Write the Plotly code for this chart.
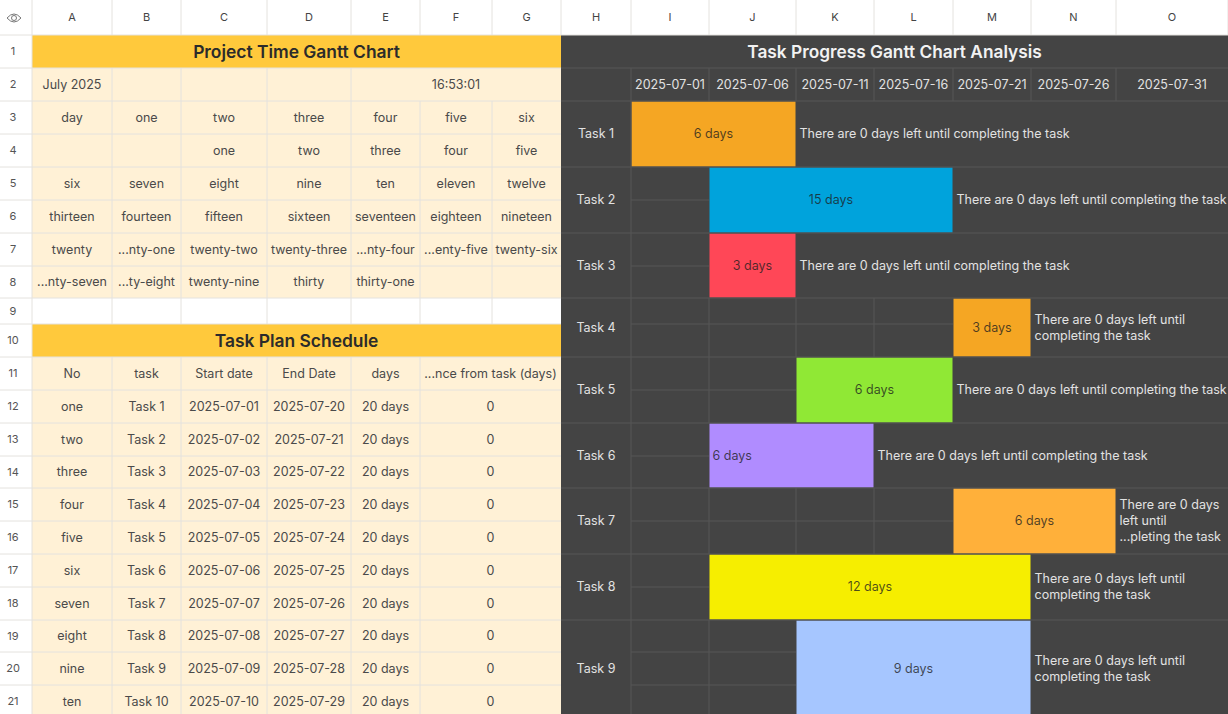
import plotly.graph_objects as go

# spreadsheet text
col_letters = ["A", "B", "C", "D", "E", "F", "G", "H", "I", "J", "K", "L", "M", "N", "O"]
calendar_days = [
    ["day", "one", "two", "three", "four", "five", "six"],
    ["", "", "one", "two", "three", "four", "five"],
    ["six", "seven", "eight", "nine", "ten", "eleven", "twelve"],
    ["thirteen", "fourteen", "fifteen", "sixteen", "seventeen", "eighteen", "nineteen"],
    ["twenty", "...nty-one", "twenty-two", "twenty-three", "...nty-four", "...enty-five", "twenty-six"],
    ["...nty-seven", "...ty-eight", "twenty-nine", "thirty", "thirty-one", "", ""],
]
schedule_head = ["No", "task", "Start date", "End Date", "days", "...nce from task (days)"]
task_no = ["one", "two", "three", "four", "five", "six", "seven", "eight", "nine", "ten"]
task_names = ["Task 1", "Task 2", "Task 3", "Task 4", "Task 5", "Task 6", "Task 7", "Task 8", "Task 9", "Task 10"]
start_dates = ["2025-07-01", "2025-07-02", "2025-07-03", "2025-07-04", "2025-07-05",
               "2025-07-06", "2025-07-07", "2025-07-08", "2025-07-09", "2025-07-10"]
end_dates = ["2025-07-20", "2025-07-21", "2025-07-22", "2025-07-23", "2025-07-24",
             "2025-07-25", "2025-07-26", "2025-07-27", "2025-07-28", "2025-07-29"]
plan_days = ["20 days"] * 10
difference = ["0"] * 10

# gantt data: first date slot and number of slots of each bar
gantt_dates = ["2025-07-01", "2025-07-06", "2025-07-11", "2025-07-16", "2025-07-21", "2025-07-26", "2025-07-31"]
bar_slot = [0, 1, 1, 4, 2, 1, 4, 1, 2]
bar_span = [2, 3, 1, 1, 2, 2, 2, 4, 3]
bar_labels = ["6 days", "15 days", "3 days", "3 days", "6 days", "6 days", "6 days", "12 days", "9 days"]
bar_colors = ["#F5A623", "#00A3DC", "#FF4757", "#F5A623", "#90E835", "#B08CFF", "#FFB03A", "#F6EE00", "#A6C6FF"]
left_notes = [
    "There are 0 days left until completing the task",
    "There are 0 days left until completing the task",
    "There are 0 days left until completing the task",
    "There are 0 days left until<br>completing the task",
    "There are 0 days left until completing the task",
    "There are 0 days left until completing the task",
    "There are 0 days<br>left until<br>...pleting the task",
    "There are 0 days left until<br>completing the task",
    "There are 0 days left until<br>completing the task",
]

# sheet geometry in pixels
x_edges = [0, 32, 112, 181, 267, 351, 420, 492, 561, 631, 709, 796, 874, 953, 1031, 1116, 1228]
y_edges = [0, 35, 68, 101, 134, 167, 200, 233, 266, 298, 324, 357, 390, 423, 456, 488, 521, 554, 587, 620, 652, 685, 718]
task_rows = [(3, 4), (5, 6), (7, 8), (9, 10), (11, 12), (13, 14), (15, 16), (17, 18), (19, 21)]

YELLOW = "#FFC93C"
CREAM = "#FFF1D6"
DARK = "#444444"
LINE = "#E4E2DE"
DARK_LINE = "#565656"
FONT = "Inter"
BODY = 12.5

shapes = []


def rect(x0, x1, y0, y1, color):
    shapes.append(dict(type="rect", layer="below", x0=x0, x1=x1, y0=y0, y1=y1,
                       fillcolor=color, line_width=0))


def cx(i, j=None):
    j = i if j is None else j
    return (x_edges[i] + x_edges[j + 1]) / 2


def cy(i, j=None):
    j = i if j is None else j
    return (y_edges[i] + y_edges[j + 1]) / 2


# backgrounds
rect(x_edges[1], x_edges[8], y_edges[1], y_edges[2], YELLOW)
rect(x_edges[1], x_edges[8], y_edges[2], y_edges[9], CREAM)
rect(x_edges[1], x_edges[8], y_edges[10], y_edges[11], YELLOW)
rect(x_edges[1], x_edges[8], y_edges[11], y_edges[-1], CREAM)
rect(x_edges[8], x_edges[-1], y_edges[1], y_edges[-1], DARK)

# grid lines, kept as one trace per colour
light_x, light_y, dark_x, dark_y = [], [], [], []


def seg(xs, ys, x0, x1, y0, y1):
    xs += [x0, x1, None]
    ys += [y0, y1, None]


for x in x_edges[1:]:
    seg(light_x, light_y, x, x, 0, y_edges[1])
seg(light_x, light_y, 0, x_edges[-1], y_edges[1], y_edges[1])
for y in y_edges[2:]:
    seg(light_x, light_y, 0, x_edges[8], y, y)
seg(light_x, light_y, x_edges[1], x_edges[1], y_edges[1], y_edges[-1])
for row in range(2, 22):
    if row == 10:
        continue
    for c in range(2, 8):
        if row == 2 and c in (6, 7):
            continue
        if row >= 11 and c == 7:
            continue
        seg(light_x, light_y, x_edges[c], x_edges[c], y_edges[row], y_edges[row + 1])

seg(dark_x, dark_y, x_edges[8], x_edges[-1], y_edges[2], y_edges[2])
seg(dark_x, dark_y, x_edges[8], x_edges[-1], y_edges[3], y_edges[3])
for c in range(9, 16):
    seg(dark_x, dark_y, x_edges[c], x_edges[c], y_edges[2], y_edges[3])
for (r0, r1), slot in zip(task_rows, bar_slot):
    seg(dark_x, dark_y, x_edges[8], x_edges[-1], y_edges[r1 + 1], y_edges[r1 + 1])
    seg(dark_x, dark_y, x_edges[9], x_edges[9], y_edges[r0], y_edges[r1 + 1])
    for c in range(1, slot):
        seg(dark_x, dark_y, x_edges[9 + c], x_edges[9 + c], y_edges[r0], y_edges[r1 + 1])
    for r in range(r0 + 1, r1 + 1):
        seg(dark_x, dark_y, x_edges[9], x_edges[9 + slot], y_edges[r], y_edges[r])

fig = go.Figure()
fig.add_trace(go.Scatter(x=light_x, y=light_y, mode="lines", line=dict(color=LINE, width=1)))
fig.add_trace(go.Scatter(x=dark_x, y=dark_y, mode="lines", line=dict(color=DARK_LINE, width=1)))

# gantt bars
bar_left = [x_edges[9 + s] + 0.5 for s in bar_slot]
bar_right = [x_edges[9 + s + n] - 0.5 for s, n in zip(bar_slot, bar_span)]
bar_top = [y_edges[r0] + 0.5 for r0, r1 in task_rows]
bar_bottom = [y_edges[r1 + 1] - 0.5 for r0, r1 in task_rows]
fig.add_trace(go.Bar(
    orientation="h",
    base=bar_left,
    x=[r - l for l, r in zip(bar_left, bar_right)],
    y=[(t + b) / 2 for t, b in zip(bar_top, bar_bottom)],
    width=[b - t for t, b in zip(bar_top, bar_bottom)],
    marker=dict(color=bar_colors, line_width=0),
))


def add_text(xs, ys, texts, color, size=BODY, position="middle center", weight=400, shift=1):
    fig.add_trace(go.Scatter(x=xs, y=[y + shift for y in ys], text=texts, mode="text", textposition=position,
                             textfont=dict(family=FONT, size=size, color=color, weight=weight)))


# sheet headers
add_text([cx(i + 1) for i in range(15)], [18] * 15, col_letters, "#444444", 11, shift=0)
add_text([13] * 21, [cy(r) for r in range(1, 22)], [str(r) for r in range(1, 22)], "#555555", 11)

# left side
left_x, left_y, left_t = [], [], []
left_x.append(cx(1)); left_y.append(cy(2)); left_t.append("July 2025")
left_x.append(cx(5, 7)); left_y.append(cy(2)); left_t.append("16:53:01")
for r, days in enumerate(calendar_days):
    for c, day in enumerate(days):
        left_x.append(cx(c + 1)); left_y.append(cy(r + 3)); left_t.append(day)
schedule_cols = [task_no, task_names, start_dates, end_dates, plan_days, difference]
for c, (head, column) in enumerate(zip(schedule_head, schedule_cols)):
    xpos = cx(6, 7) if c == 5 else cx(c + 1)
    left_x.append(xpos); left_y.append(cy(11)); left_t.append(head)
    for r, value in enumerate(column):
        left_x.append(xpos); left_y.append(cy(r + 12)); left_t.append(value)
add_text(left_x, left_y, left_t, "#4A4A4A")

add_text([cx(1, 7), cx(1, 7)], [cy(1), cy(10)], ["Project Time Gantt Chart", "Task Plan Schedule"],
         "#2B2B2B", 17.4, weight=600, shift=2)
add_text([cx(8, 15)], [cy(1)], ["Task Progress Gantt Chart Analysis"], "#F2F2F2", 17.3, weight=600, shift=2)

# right side
add_text([cx(9 + i) for i in range(7)], [cy(2)] * 7, gantt_dates, "#E2E2E2")
add_text([cx(8)] * 9, [(t + b) / 2 for t, b in zip(bar_top, bar_bottom)], task_names[:9], "#E2E2E2")
add_text([r + 4 for r in bar_right], [(t + b) / 2 for t, b in zip(bar_top, bar_bottom)], left_notes,
         "#E2E2E2", position="middle right")

# bar labels, Task 6 sits at the left of its bar
label_x = [(l + r) / 2 for l, r in zip(bar_left, bar_right)]
label_x[5] = bar_left[5] + 3
for i in range(9):
    add_text([label_x[i]], [(bar_top[i] + bar_bottom[i]) / 2], [bar_labels[i]], "rgba(30,30,30,0.78)",
             position="middle right" if i == 5 else "middle center")

# eye icon in the corner
shapes.append(dict(type="path", path="M 7 18 Q 14 10 21 18 Q 14 26 7 18 Z", line=dict(color="#777777", width=1)))
shapes.append(dict(type="circle", x0=11.5, x1=16.5, y0=15.5, y1=20.5, line=dict(color="#777777", width=1)))

fig.update_traces(hoverinfo="skip", showlegend=False)
fig.update_xaxes(range=[0, 1228], visible=False, fixedrange=True)
fig.update_yaxes(range=[714, 0], visible=False, fixedrange=True)
fig.update_layout(width=1228, height=714, margin=dict(l=0, r=0, t=0, b=0), plot_bgcolor="white",
                  paper_bgcolor="white", shapes=shapes, barmode="overlay", showlegend=False)
fig.write_html("out.html", config={"displayModeBar": False},
               post_script="document.body.style.margin='0';document.body.style.overflow='hidden';")
